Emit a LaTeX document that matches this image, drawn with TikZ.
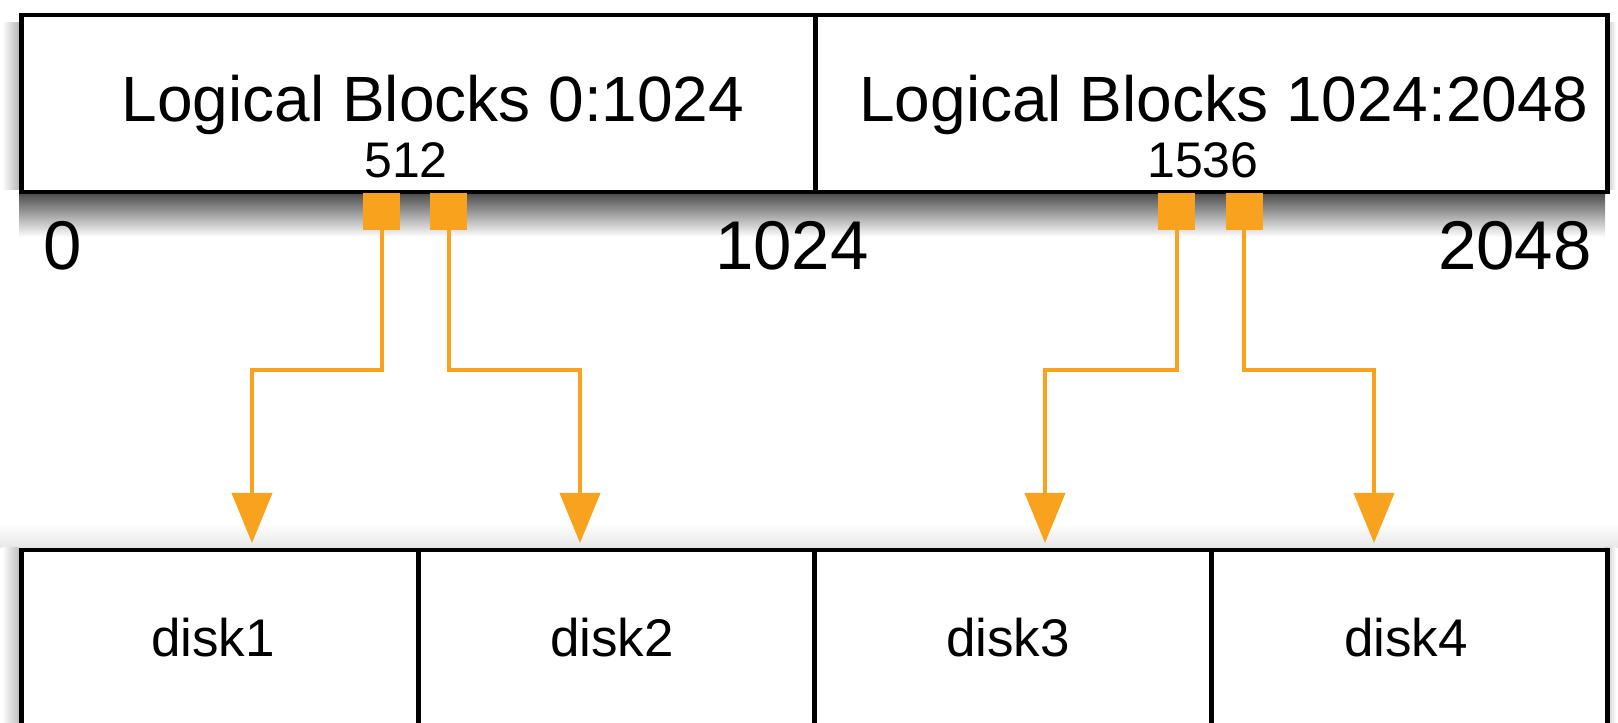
\documentclass[tikz,border=0pt]{standalone}
\usepackage{fontspec}
\setmainfont{Liberation Sans}
\usetikzlibrary{arrows.meta}
\definecolor{orng}{RGB}{249,162,30}
\tikzset{
  boxline/.style={draw=black, line width=4.5pt, fill=white, inner sep=0pt},
  port/.style={fill=orng, draw=none, minimum width=37pt, minimum height=37pt, inner sep=0pt},
  conn/.style={draw=orng, line width=4pt, -{Triangle[width=40pt,length=50pt]}, shorten >=5pt},
  big/.style={font=\fontsize{64}{70}\selectfont, anchor=base, inner sep=0pt},
  mid/.style={font=\fontsize{50}{56}\selectfont, anchor=base, inner sep=0pt},
  tick/.style={font=\fontsize{69}{74}\selectfont, anchor=base, inner sep=0pt},
  disklbl/.style={font=\fontsize{53}{58}\selectfont, anchor=base, inner sep=0pt}
}
\begin{document}
\begin{tikzpicture}[x=1pt,y=1pt]
\useasboundingbox (0,0) rectangle (1618,723);
% soft shadows
\shade[top color=black!75, bottom color=white] (19,533) rectangle (1605,486);
\shade[left color=white, right color=black!28] (2,700) rectangle (19,533);
\shade[left color=black!28, right color=white] (1605,700) rectangle (1616,533);
\shade[top color=white, bottom color=black!10] (0,200) rectangle (1618,175);
\shade[left color=white, right color=black!25] (2,175) rectangle (19,0);
\shade[left color=black!25, right color=white] (1605,175) rectangle (1616,0);
% top bar
\node[boxline, anchor=north west, minimum width=794pt, minimum height=177pt] (lb1) at (19,710) {};
\node[boxline, anchor=north west, minimum width=792pt, minimum height=177pt] (lb2) at (813,710) {};
\node[big] (t1) at (433,601) {Logical Blocks 0:1024};
\node[big] (t2) at (1224,601) {Logical Blocks 1024:2048};
\node[mid] (m1) at (406,545) {512};
\node[mid] (m2) at (1203,545) {1536};
% position ticks
\node[tick] (p0) at (63,453) {0};
\node[tick] (p1) at (792,453) {1024};
\node[tick] (p2) at (1515,453) {2048};
% ports
\node[port] (s1) at (381.5,511.5) {};
\node[port] (s2) at (448.5,511.5) {};
\node[port] (s3) at (1176.5,511.5) {};
\node[port] (s4) at (1244,511.5) {};
% disks
\node[boxline, anchor=north west, minimum width=397pt, minimum height=200pt] (d1) at (19,175) {};
\node[boxline, anchor=north west, minimum width=396pt, minimum height=200pt] (d2) at (416,175) {};
\node[boxline, anchor=north west, minimum width=397pt, minimum height=200pt] (d3) at (812,175) {};
\node[boxline, anchor=north west, minimum width=396pt, minimum height=200pt] (d4) at (1209,175) {};
\node[disklbl] (l1) at (213,66) {disk1};
\node[disklbl] (l2) at (612,66) {disk2};
\node[disklbl] (l3) at (1008,66) {disk3};
\node[disklbl] (l4) at (1406,66) {disk4};
% connectors
\coordinate (k1) at (252,353);
\coordinate (k2) at (580,353);
\coordinate (k3) at (1045,353);
\coordinate (k4) at (1374,353);
\draw[conn] (s1.south) |- (k1) -- (k1 |- d1.north);
\draw[conn] (s2.south) |- (k2) -- (k2 |- d2.north);
\draw[conn] (s3.south) |- (k3) -- (k3 |- d3.north);
\draw[conn] (s4.south) |- (k4) -- (k4 |- d4.north);
\end{tikzpicture}
\end{document}
